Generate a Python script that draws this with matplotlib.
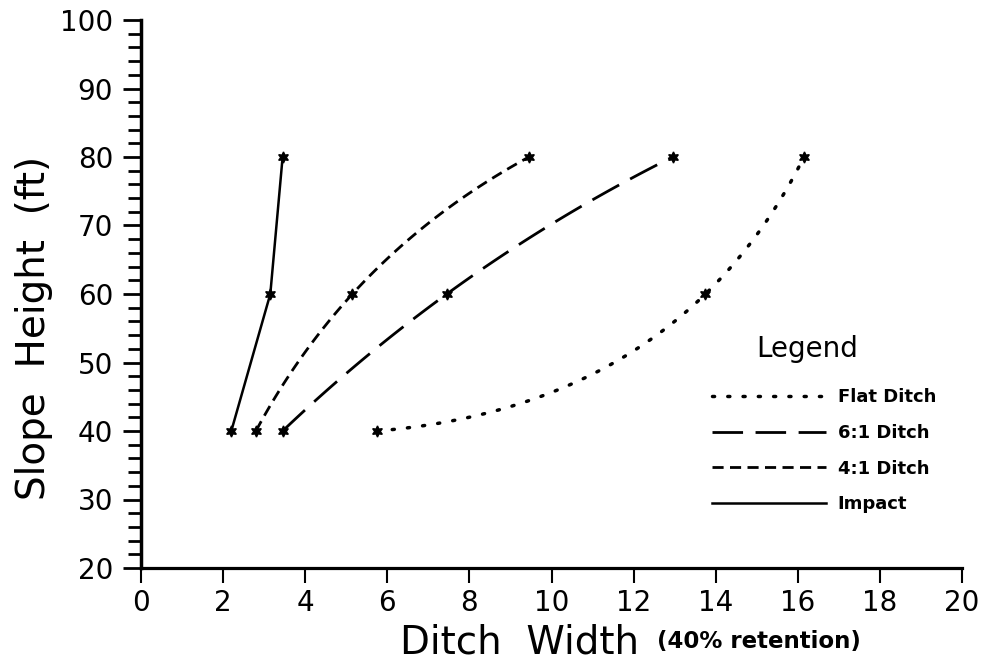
import numpy as np
import matplotlib
matplotlib.use("Agg")
import matplotlib.pyplot as plt
from matplotlib.ticker import MultipleLocator

# Slope height (ft) for every series
heights = [40, 60, 80]

# Ditch width (40% retention)
flat_ditch = [5.75, 13.75, 16.15]
ditch_6to1 = [3.45, 7.45, 12.95]
ditch_4to1 = [2.8, 5.15, 9.45]
impact = [2.2, 3.15, 3.45]

labels = ["Flat Ditch", "6:1 Ditch", "4:1 Ditch", "Impact"]

W, H = 985, 662


def smooth_curve(ax, xs, ys, n=80):
    """Smooth line through the points (quadratic in display space, chord-length parameter)."""
    pts = ax.transData.transform(np.column_stack([xs, ys]))
    seg = np.hypot(*np.diff(pts, axis=0).T)
    t = np.concatenate([[0], np.cumsum(seg)])
    tt = np.linspace(0, t[-1], n)
    cx = np.polyfit(t, pts[:, 0], 2)
    cy = np.polyfit(t, pts[:, 1], 2)
    curve = np.column_stack([np.polyval(cx, tt), np.polyval(cy, tt)])
    curve = ax.transData.inverted().transform(curve)
    return curve[:, 0], curve[:, 1]


fig = plt.figure(figsize=(W / 100, H / 100), dpi=100)
ax = fig.add_axes([141 / W, 1 - 568 / H, (962 - 141) / W, (568 - 20) / H])
ax.set_xlim(0, 20)
ax.set_ylim(20, 100)

for side in ["top", "right"]:
    ax.spines[side].set_visible(False)
ax.spines["left"].set_linewidth(2.5)
ax.spines["bottom"].set_linewidth(2.3)

ax.xaxis.set_major_locator(MultipleLocator(2))
ax.yaxis.set_major_locator(MultipleLocator(10))
ax.yaxis.set_minor_locator(MultipleLocator(2))
ax.tick_params(axis="x", which="major", direction="out", length=11, width=1.5,
               labelsize=20, pad=4)
ax.tick_params(axis="y", which="major", direction="out", length=13, width=2.0,
               labelsize=20, pad=7)
ax.tick_params(axis="y", which="minor", direction="out", length=9.5, width=2.0)

styles = [
    dict(dashes=(0.6, 3.8), lw=2.5, dash_capstyle="round"),   # flat: dotted
    dict(dashes=(11, 4.5), lw=2.0),                            # 6:1: long dash
    dict(dashes=(4, 2.3), lw=2.0),                             # 4:1: short dash
    dict(linestyle="-", lw=1.8),                               # impact: solid
]
series = [flat_ditch, ditch_6to1, ditch_4to1, impact]

handles = []
for vals, lab, st in zip(series, labels, styles):
    if lab == "Impact":
        xs, ys = vals, heights
    else:
        xs, ys = smooth_curve(ax, vals, heights)
    line, = ax.plot(xs, ys, color="black", label=lab, **st)
    handles.append(line)
    ax.plot(vals, heights, linestyle="none", marker=(6, 1, 0), markersize=8,
            color="black")

ax.legend(handles=handles, loc="upper left",
          bbox_to_anchor=(696 / W, 1 - 372 / H), bbox_transform=fig.transFigure,
          frameon=False, prop=dict(size=13, weight="bold"), handlelength=6.3,
          handletextpad=0.65, labelspacing=0.98, borderpad=0.4)
fig.text(807 / W, 1 - 349 / H, "Legend", ha="center", va="center", fontsize=20)

fig.text(45 / W, 1 - 328 / H, "Slope  Height  (ft)", rotation=90,
         rotation_mode="anchor", ha="center", va="baseline", fontsize=28)
fig.text(400 / W, 1 - 654 / H, "Ditch  Width", ha="left", va="baseline", fontsize=28)
fig.text(657 / W, 1 - 648 / H, "(40% retention)", ha="left", va="baseline",
         fontsize=16.5, fontweight="bold")

fig.savefig("out.png", dpi=100)
